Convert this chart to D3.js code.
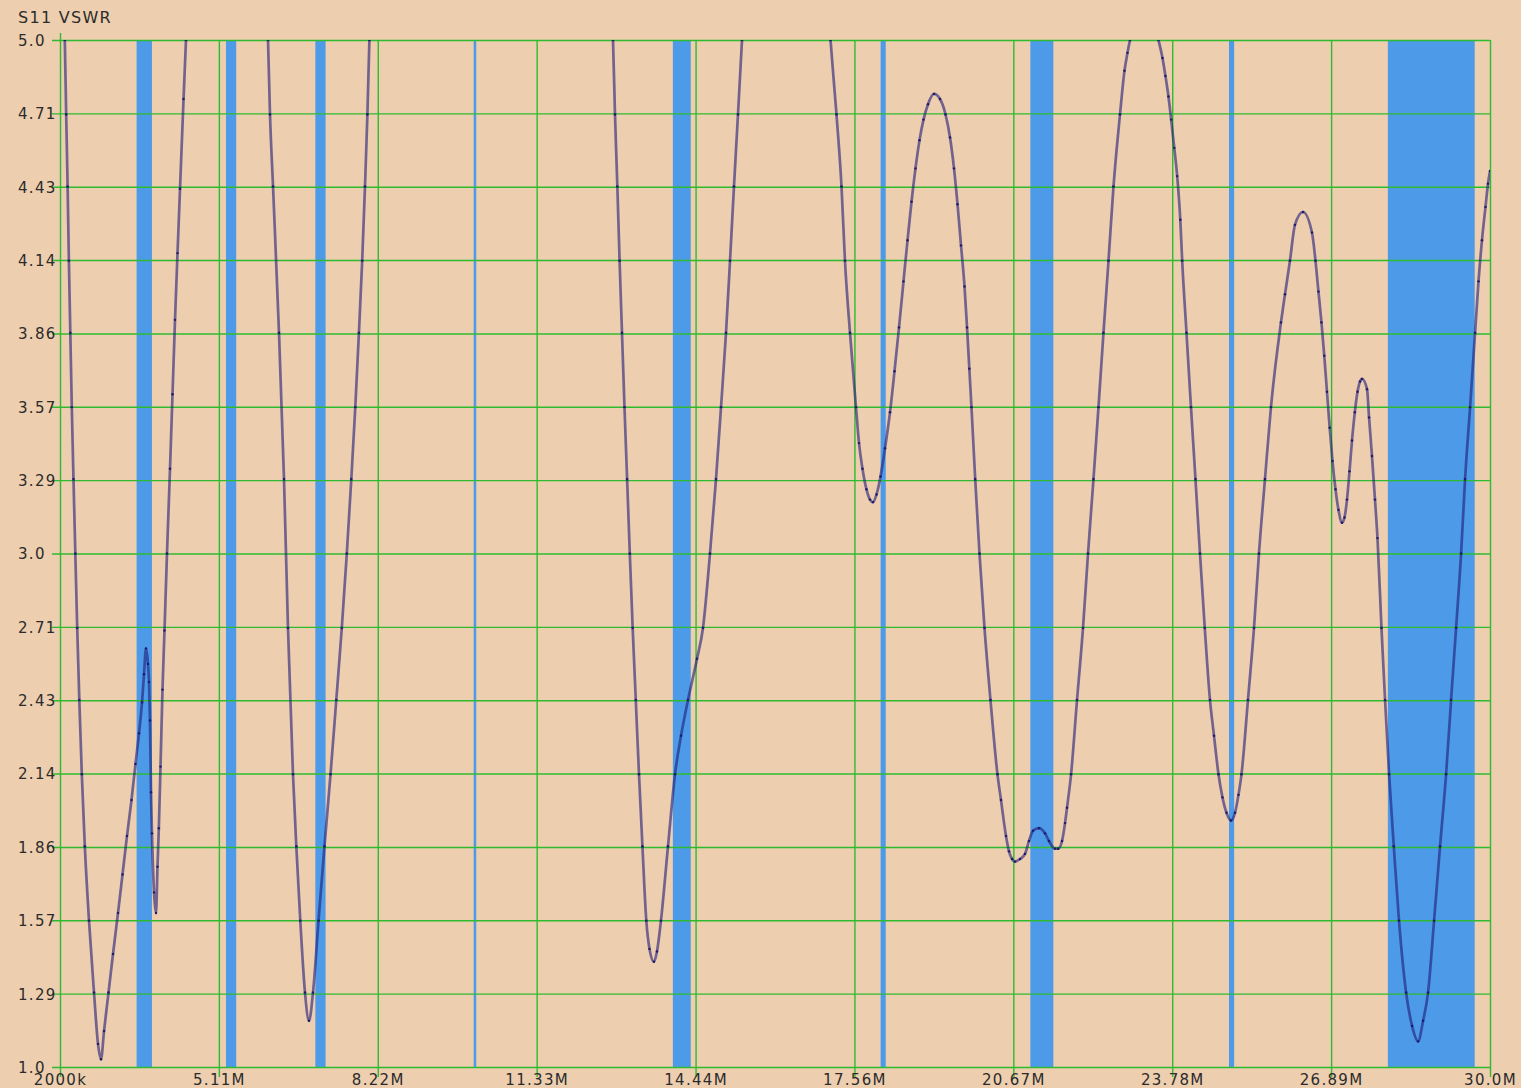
<!DOCTYPE html>
<html>
<head>
<meta charset="utf-8">
<script src="https://cdn.jsdelivr.net/npm/d3@7"></script>
<style>
  body { margin: 0; background: #edceaf; }
  svg text { font-family: "DejaVu Sans", Verdana, sans-serif; fill: #2b2b2b; font-size: 15px; letter-spacing: 1.3px; }
</style>
</head>
<body>
<div id="chart"></div>
<script>
// sweep: frequency in MHz and the VSWR at that frequency
// (values above 5.0 are off the top of the plot and get clipped)
const freqMHz = [
  2.000, 2.094, 2.121, 2.149, 2.174, 2.202, 2.231, 2.264, 2.300, 2.337, 2.378, 2.427, 2.486, 2.568, 2.666, 2.744, 2.803,
  2.862, 2.950, 3.038, 3.136, 3.224, 3.312, 3.400, 3.478, 3.547, 3.606, 3.645, 3.684, 3.723, 3.743, 3.762, 3.782, 3.801,
  3.841, 3.880, 3.909, 3.935, 3.968, 4.007, 4.046, 4.095, 4.154, 4.203, 4.252, 4.301, 4.350, 4.419, 4.467, 4.600, 5.500, 5.950,
  6.073, 6.112, 6.171, 6.288, 6.386, 6.464, 6.562, 6.627, 6.705, 6.797, 6.875, 6.954, 7.062, 7.179, 7.297, 7.410, 7.518,
  7.616, 7.704, 7.782, 7.853, 7.917, 7.972, 8.019, 8.058, 8.200, 10.400, 12.600,
  12.828, 12.867, 12.913, 12.957, 13.004, 13.053, 13.104, 13.157, 13.213, 13.274, 13.337, 13.404, 13.480, 13.543, 13.630,
  13.689, 13.767, 13.905, 14.042, 14.160, 14.297, 14.473, 14.590, 14.727, 14.845, 14.943, 15.041, 15.119, 15.197, 15.275,
  15.354, 15.500, 16.200, 16.900,
  17.087, 17.204, 17.302, 17.370, 17.468, 17.586, 17.645, 17.713, 17.791, 17.860, 17.919, 17.988, 18.066, 18.154, 18.252,
  18.340, 18.428, 18.516, 18.595, 18.673, 18.751, 18.830, 18.908, 18.996, 19.113, 19.231, 19.339, 19.427, 19.505, 19.574,
  19.642, 19.711, 19.760, 19.805, 19.847, 19.920, 20.004, 20.102, 20.219, 20.356, 20.425, 20.523, 20.582, 20.641, 20.699,
  20.797, 20.895, 20.973, 21.052, 21.169, 21.287, 21.365, 21.483, 21.542, 21.620, 21.679, 21.718, 21.797, 21.914, 22.031,
  22.129, 22.236, 22.334, 22.432, 22.530, 22.628, 22.755, 22.843, 22.902, 22.951, 23.230, 23.508, 23.587, 23.645, 23.704,
  23.757, 23.818, 23.875, 23.936, 23.973, 24.057, 24.145, 24.233, 24.321, 24.415, 24.517, 24.596, 24.684, 24.762, 24.841,
  24.929, 25.007, 25.075, 25.134,
  25.261, 25.379, 25.476, 25.594, 25.711, 25.907, 25.986, 26.083, 26.181, 26.338, 26.514, 26.583, 26.641, 26.700,
  26.755, 26.808, 26.861, 26.916, 26.975, 27.033, 27.102, 27.151, 27.200, 27.249, 27.298, 27.353, 27.406, 27.455, 27.494,
  27.592, 27.632, 27.689, 27.748, 27.797, 27.875, 27.945, 28.024, 28.116, 28.218, 28.357, 28.474, 28.592, 28.690, 28.787,
  28.905, 29.022, 29.140, 29.238, 29.336, 29.434, 29.512, 29.610, 29.708, 29.775, 29.843, 29.912, 29.961, 30.000
]
const vswr = [
  5.40, 5.00, 4.71, 4.43, 4.14, 3.86, 3.57, 3.29, 3.00, 2.71, 2.43, 2.14, 1.86, 1.57, 1.29, 1.09, 1.03,
  1.14, 1.29, 1.44, 1.60, 1.75, 1.90, 2.04, 2.18, 2.30, 2.42, 2.53, 2.63, 2.57, 2.50, 2.35, 2.07, 1.91,
  1.68, 1.60, 1.78, 1.93, 2.17, 2.47, 2.70, 3.00, 3.33, 3.62, 3.91, 4.17, 4.42, 4.77, 5.00, 5.60, 9.00, 5.50,
  5.00, 4.71, 4.43, 3.86, 3.29, 2.71, 2.14, 1.86, 1.57, 1.29, 1.18, 1.29, 1.57, 1.86, 2.14, 2.43, 2.71,
  3.00, 3.29, 3.57, 3.86, 4.14, 4.43, 4.71, 5.00, 5.60, 12.00, 5.60,
  5.00, 4.71, 4.43, 4.14, 3.86, 3.57, 3.29, 3.00, 2.71, 2.43, 2.14, 1.86, 1.57, 1.46, 1.41,
  1.45, 1.57, 1.86, 2.14, 2.29, 2.43, 2.59, 2.71, 3.00, 3.29, 3.57, 3.86, 4.14, 4.43, 4.71,
  5.00, 5.60, 8.00, 5.60,
  5.00, 4.71, 4.43, 4.14, 3.86, 3.57, 3.43, 3.33, 3.25, 3.21, 3.20, 3.23, 3.30, 3.41, 3.55,
  3.71, 3.88, 4.06, 4.22, 4.37, 4.50, 4.61, 4.69, 4.75, 4.79, 4.77, 4.71, 4.62, 4.50, 4.36,
  4.20, 4.04, 3.88, 3.72, 3.57, 3.29, 3.00, 2.71, 2.43, 2.14, 2.04, 1.90, 1.84, 1.81, 1.80,
  1.81, 1.83, 1.88, 1.92, 1.93, 1.91, 1.88, 1.85, 1.85, 1.88, 1.95, 2.01, 2.14, 2.43, 2.71,
  3.00, 3.29, 3.57, 3.86, 4.14, 4.43, 4.71, 4.88, 4.95, 5.00, 5.15, 5.00, 4.93, 4.86, 4.78,
  4.69, 4.58, 4.47, 4.30, 4.14, 3.86, 3.57, 3.29, 3.00, 2.71, 2.43, 2.29, 2.14, 2.05, 1.99,
  1.96, 1.99, 2.06, 2.14,
  2.43, 2.71, 3.00, 3.29, 3.57, 3.90, 4.01, 4.14, 4.28, 4.33, 4.25, 4.14, 4.02, 3.90,
  3.77, 3.63, 3.49, 3.36, 3.25, 3.17, 3.12, 3.14, 3.21, 3.32, 3.44, 3.55, 3.63, 3.67, 3.68,
  3.64, 3.53, 3.38, 3.21, 3.06, 2.71, 2.43, 2.14, 1.86, 1.57, 1.29, 1.16, 1.10, 1.18, 1.29,
  1.57, 1.86, 2.14, 2.43, 2.71, 3.00, 3.29, 3.57, 3.86, 4.06, 4.22, 4.35, 4.44, 4.49
]

// amateur bands shaded in blue (MHz)
const bandStart = [3.5, 5.25, 7.0, 10.1, 14.0, 18.068, 21.0, 24.89, 28.0]
const bandEnd   = [3.8, 5.45, 7.2, 10.15, 14.35, 18.168, 21.45, 24.99, 29.7]

const xTickLabels = ['2000k', '5.11M', '8.22M', '11.33M', '14.44M', '17.56M', '20.67M', '23.78M', '26.89M', '30.0M']
const yTickLabels = ['1.0', '1.29', '1.57', '1.86', '2.14', '2.43', '2.71', '3.0', '3.29', '3.57', '3.86', '4.14', '4.43', '4.71', '5.0']

const title = 'S11 VSWR'

const W = 1521, H = 1088
const plot = { left: 60, right: 1490, top: 40, bottom: 1067 }

const svg = d3.select('#chart').append('svg')
  .attr('width', W)
  .attr('height', H)

svg.append('rect')
  .attr('width', W).attr('height', H)
  .attr('fill', '#edceaf')

const x = d3.scaleLinear().domain([2, 30]).range([plot.left, plot.right])
const y = d3.scaleLinear().domain([1, 5]).range([plot.bottom, plot.top])

const xTickVals = xTickLabels.map((d, i) => 2 + i * 28 / (xTickLabels.length - 1))
const yTickVals = yTickLabels.map((d, i) => 1 + i * 4 / (yTickLabels.length - 1))

// bands go under the grid
svg.append('g').selectAll('rect')
  .data(bandStart.map((s, i) => ({ s, e: bandEnd[i] })))
  .join('rect')
    .attr('x', d => x(d.s))
    .attr('width', d => Math.max(2, x(d.e) - x(d.s)))
    .attr('y', plot.top)
    .attr('height', plot.bottom - plot.top)
    .attr('fill', '#4c9ae8')

const green = '#2fbb2f'

// horizontal grid + y labels
const yAxis = svg.append('g')
  .attr('transform', `translate(${plot.left},0)`)
  .call(d3.axisLeft(y).tickValues(yTickVals).tickFormat((d, i) => yTickLabels[i]).tickSizeOuter(0))
yAxis.select('.domain').remove()
yAxis.selectAll('.tick line')
  .attr('x1', -8).attr('x2', plot.right - plot.left)
  .attr('stroke', green).attr('stroke-width', 1.4)
yAxis.selectAll('.tick text')
  .attr('x', 18 - plot.left)
  .attr('dy', '0.36em')
  .attr('text-anchor', 'start')
  .attr('fill', '#2b2b2b')
  .style('font-size', '15px')
  .style('font-family', '"DejaVu Sans", Verdana, sans-serif')

// vertical grid + x labels
const xAxis = svg.append('g')
  .attr('transform', `translate(0,${plot.bottom})`)
  .call(d3.axisBottom(x).tickValues(xTickVals).tickFormat((d, i) => xTickLabels[i]).tickSizeOuter(0))
xAxis.select('.domain').remove()
xAxis.selectAll('.tick line')
  .attr('y1', (d, i) => i === 0 ? plot.top - 7 - plot.bottom : plot.top - plot.bottom)
  .attr('y2', 10)
  .attr('stroke', green).attr('stroke-width', 1.4)
xAxis.selectAll('.tick text')
  .attr('y', 18)
  .attr('dy', 0)
  .attr('fill', '#2b2b2b')
  .style('font-size', '15px')
  .style('font-family', '"DejaVu Sans", Verdana, sans-serif')

// title
svg.append('text')
  .attr('x', 18)
  .attr('y', 23)
  .style('font-size', '16px')
  .text(title)

// the sweep itself, clipped to the plot box
svg.append('clipPath').attr('id', 'plotClip')
  .append('rect')
    .attr('x', plot.left).attr('y', plot.top)
    .attr('width', plot.right - plot.left).attr('height', plot.bottom - plot.top)

const pts = freqMHz.map((f, i) => ({ f, v: vswr[i] }))

const line = d3.line()
  .x(d => x(d.f))
  .y(d => y(d.v))
  .curve(d3.curveMonotoneX)

const g = svg.append('g').attr('clip-path', 'url(#plotClip)')

g.append('path')
  .datum(pts)
  .attr('fill', 'none')
  .attr('stroke', 'rgba(32,26,118,0.6)')
  .attr('stroke-width', 2.7)
  .attr('stroke-linejoin', 'round')
  .attr('d', line)

g.selectAll('circle')
  .data(pts.filter(d => d.v <= 5))
  .join('circle')
    .attr('cx', d => x(d.f))
    .attr('cy', d => y(d.v))
    .attr('r', 1.2)
    .attr('fill', '#1b1b6e')
</script>
</body>
</html>
